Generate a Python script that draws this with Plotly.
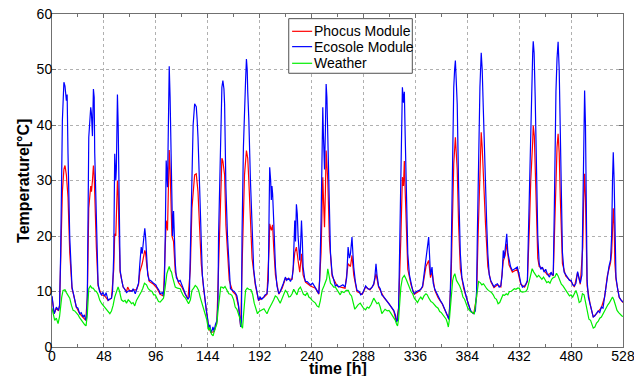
import plotly.graph_objects as go

# hours / temperature readings [deg C]
ecosole_h = [0, 2, 3, 4, 6, 7, 8, 9.6, 11, 12, 13.3, 14, 14.8, 16.4, 18.5, 20, 22.5, 24, 25.6, 27, 28.7, 30, 31.2, 32, 32.7,
             34, 35, 35.8, 36.5, 37.4, 38.3, 39, 39.5, 41, 42.6, 44, 45.7, 47, 48.8, 50, 51.9, 53, 55, 56, 57.1, 58, 59,
             59.5, 60.5, 61.2, 61.8, 63, 64.5, 65.8, 67, 68.9, 70, 72, 74, 75, 77, 78.1, 80, 81.2, 82.5, 83.4, 84.5, 85.8,
             86.5, 87.7, 88.5, 89.9, 91, 93.9, 96, 97, 99, 100, 102, 103.1, 104, 104.7, 105.6, 106.8, 107.5, 108.4, 109.2,
             110, 110.9, 111.5, 112.4, 113, 114, 115, 117, 118.5, 120.1, 121.5, 123.2, 125, 125.7, 127, 127.9, 128.5,
             129.4, 130.5, 131.9, 133.4, 134.2, 135, 136.5, 138, 139, 140.2, 141.5, 142.7, 144, 144.8, 146, 147, 148,
             148.8, 150, 151, 152.5, 153.5, 154, 155.6, 156.3, 157.1, 158, 159, 159.6, 160.8, 162.3, 163.9, 165, 167,
             168.5, 170, 171, 172.5, 173.5, 174.5, 175.2, 175.7, 177, 178, 179, 179.8, 180.5, 181, 182, 183.5, 185, 186.5,
             188, 189.5, 191, 192.5, 194, 195.7, 197, 198.8, 200, 200.8, 201.3, 202.2, 202.8, 203.4, 204, 205, 206.6, 208,
             209.7, 211, 212.8, 214, 215.8, 217, 218.9, 220.5, 222, 223, 224.5, 225.2, 226, 226.8, 227.6, 228.3, 229.1,
             229.8, 230.7, 231.5, 232.2, 233.5, 234.4, 236, 237.5, 239, 241, 243.6, 245, 246.7, 247.5, 248.8, 249.5,
             250.4, 251, 251.5, 252, 252.8, 253.5, 254.2, 255, 255.8, 256.6, 257.5, 259, 260.5, 262, 263.7, 265, 267,
             269, 271, 272.5, 273.8, 275, 276, 277.4, 278.2, 279, 280.5, 282, 284, 285.5, 287, 288.5, 290, 292, 294, 296,
             297.5, 298.5, 299.6, 300.5, 302, 303.5, 305, 307, 309, 311.6, 313.5, 316, 317.5, 318.5, 319.5, 320.5, 321.5,
             322.6, 323.3, 324, 325, 325.8, 326.6, 327.4, 329, 330.5, 332, 333.5, 335, 337, 339.6, 341, 342.7, 344,
             345.8, 347, 348.3, 349, 350, 351.4, 352.5, 354, 355.5, 357, 359, 361, 363, 365, 366, 367, 368, 369, 370,
             370.8, 371.5, 372.3, 373, 373.8, 374.7, 376, 377.6, 379, 380.7, 382.5, 384, 385.5, 387, 388.5, 390, 391.5,
             392.6, 393.3, 394, 395, 395.7, 396.9, 397.8, 398.7, 399.8, 400.9, 402, 403, 404.3, 405.7, 407, 408.7, 410,
             411.9, 413.5, 415, 416.2, 417.3, 418.2, 419, 420.5, 421.5, 422.6, 424, 425.7, 427.5, 429, 430.3, 432, 433.5,
             435, 437, 438.5, 439.6, 440.5, 441.5, 442.7, 443.5, 444.5, 445, 445.8, 446.8, 448, 449.2, 450.5, 452, 453.5,
             455, 456.5, 458, 460, 461.5, 462.5, 463.5, 464.5, 465.3, 466, 467, 468, 469, 470, 471, 472, 473.5, 475, 477,
             478.5, 480, 481.5, 483, 484.5, 486, 487, 488.5, 490, 490.8, 491.6, 492.5, 493.3, 494, 494.8, 496, 497.5, 499,
             500.5, 502, 503.5, 505, 506.5, 508, 509.5, 511, 512, 513.5, 515, 516.5, 517.5, 518.3, 519, 519.8, 520.5,
             521.5, 523, 524.5, 526, 528]
ecosole_t = [9.2, 6, 6.5, 7.2, 6.6, 7.5, 16.8, 40.8, 47.7, 47, 44.4, 45.5, 34.8, 19.8, 10.8, 9.5, 7.2, 7, 6, 6.2, 5.4, 5.8,
             4.8, 5.2, 10, 37.8, 41, 43.2, 42, 38, 46.5, 45, 35, 22, 11.4, 10, 9.4, 9.8, 9.2, 9.8, 8.4, 8.6, 8.8, 10, 16.8,
             34.8, 30, 32, 45.5, 40, 28.8, 13.8, 12, 10.8, 10.5, 9.8, 10, 10.2, 10, 10.5, 9.6, 10.5, 11.5, 15, 18, 16.8,
             19, 21.4, 20, 16.8, 13, 12, 12, 11.5, 11.2, 10.8, 10.2, 9.6, 9.8, 9.2, 12, 19.8, 33.6, 28.8, 38, 50.6, 45,
             34.8, 22.8, 20, 24.5, 19, 15, 12.5, 11.8, 12, 11, 10.5, 9.6, 9, 8.6, 9, 16.8, 26, 34.8, 40, 43.8, 43.3, 41,
             37.8, 28.8, 18, 13, 10.8, 8, 6.6, 5, 3.5, 4, 2.6, 3, 3.6, 2.8, 4, 4.8, 8, 19.8, 31.8, 40, 46.8, 48, 46.5,
             43.8, 28.8, 19.8, 12.6, 10.5, 10.2, 10, 9.6, 9.2, 7.5, 5.5, 3.6, 4.5, 20, 36, 43.8, 48, 51.9, 50, 46, 41, 30,
             19.8, 14, 11.5, 9.5, 8.4, 9, 8.6, 9, 9.4, 9.6, 12, 25, 32.4, 30, 26.5, 29, 27.6, 22.8, 14.4, 11, 9.6, 10,
             10.8, 11.5, 12.6, 12, 12.4, 11.8, 12.4, 14, 22.8, 19, 25.7, 24, 19.8, 17, 15.6, 18, 22.8, 19, 14.4, 12.5,
             11.8, 11.8, 11.5, 11.2, 11.5, 10.8, 10.2, 9.6, 12, 22.8, 35, 43.2, 38, 34, 32, 39, 47.4, 45, 37.8, 30, 22.8,
             17, 13.2, 12, 11, 11.2, 10.8, 11, 11.2, 10.8, 12.5, 18, 16, 16.8, 19.8, 17, 14.4, 11.8, 10.2, 10, 9.4, 9.6,
             10.4, 11, 10.5, 10.4, 10.8, 11.4, 12.5, 15, 13, 11, 10.5, 9.4, 9, 8.5, 7.9, 7.3, 6.6, 5.8, 4.5, 4.8, 7, 18,
             31.8, 38, 46.8, 44, 46, 38, 28.8, 16.8, 13, 11.4, 10.2, 9.6, 10, 10.2, 10.4, 11, 13, 15.6, 18, 19.8, 17, 13,
             14.4, 11.5, 10.4, 9.8, 9, 8.4, 7.8, 7, 6, 5.5, 5, 7.9, 15, 28.8, 40, 46.8, 50, 51.6, 48, 43.8, 28.8, 16.8,
             12.5, 10.8, 9.5, 8.4, 7.5, 6.6, 6.2, 6, 6.5, 10, 20, 28.8, 40, 46.8, 53, 50, 43.8, 35, 28.8, 22, 16.8, 13,
             12, 11.5, 10.8, 11.2, 11.4, 10.8, 11, 13, 17.4, 16, 18, 20.4, 17, 15.6, 14.5, 13.8, 14, 14.2, 14.4, 13, 11.5,
             10.8, 11, 11.5, 12, 20, 30, 40.8, 47, 53, 55.1, 53, 45, 32, 20, 15, 14, 14.4, 13.5, 14, 13.2, 12.6, 13.5, 13,
             13, 25, 38, 46, 52, 55, 50, 38, 26, 17, 13.5, 13, 12.5, 12, 12, 11.2, 11, 11.5, 13.6, 12.8, 11.5, 13, 25, 38,
             46.2, 40, 25, 12, 9, 7.9, 6.5, 5.4, 5.6, 6, 6.5, 6.2, 7.2, 7, 9, 11, 13, 14.5, 15.7, 20, 30, 35.1, 30, 18,
             12.6, 10.5, 9, 8.5, 8.1]

phocus_h = [0, 2, 4, 6, 7, 8, 9.6, 11, 12, 13.3, 14.8, 16.4, 18.5, 20, 22.5, 25.6, 28.7, 31.2, 32.7, 34, 35.8, 36.5, 37.4,
            38.3, 39, 39.5, 41, 42.6, 45.7, 48.8, 51.9, 55, 57.1, 58, 59, 60.5, 61.2, 61.8, 63, 65.8, 68.9, 70, 72, 75,
            78.1, 80, 81.2, 83.4, 85.8, 86.5, 87.7, 89.9, 93.9, 97, 100, 103.1, 104.7, 105.6, 106.8, 107.5, 108.4, 109.2,
            110, 110.9, 112.4, 114, 117, 120.1, 123.2, 125.7, 127.9, 129.4, 131.9, 133.4, 135, 136.5, 138, 140.2, 142.7,
            144.8, 147, 150, 152.5, 154, 155.6, 157.1, 158, 159.6, 160.8, 162.3, 163.9, 167, 170, 172.5, 174.5, 175.7,
            177, 178, 179.8, 181, 182, 183.5, 185, 188, 191, 195.7, 198.8, 200.8, 201.3, 202.8, 204, 205, 206.6, 209.7,
            212.8, 215.8, 218.9, 222, 224.5, 226, 227.6, 229.1, 230.7, 232.2, 234.4, 239, 243.6, 246.7, 248.8, 250.4,
            251.5, 252, 252.8, 253.5, 255, 256.6, 259, 263.7, 267, 271, 273.8, 276, 277.4, 279, 282, 287, 290, 294, 297.5,
            299.6, 302, 307, 311.6, 316, 318.5, 320.5, 322.6, 324, 325, 325.8, 326.6, 327.4, 329, 332, 335, 339.6, 342.7,
            345.8, 348.3, 350, 351.4, 354, 357, 361, 365, 367, 369, 370, 371.5, 373, 374.7, 376, 377.6, 380.7, 384, 387,
            390, 392.6, 394, 395.7, 396.9, 397.8, 398.7, 400.9, 403, 405.7, 408.7, 411.9, 415, 417.3, 419, 420.5, 422.6,
            425.7, 430.3, 433.5, 437, 439.6, 441.5, 442.7, 444.5, 445, 446, 446.8, 448, 449.2, 450.5, 453.5, 458, 461.5,
            463.5, 465.3, 466, 467, 468, 469, 470, 471, 472, 475, 480, 483, 486, 488.5, 490.8, 491.6, 492.5, 493.3, 494,
            494.8, 497.5, 500.5, 503.5, 508, 511, 513.5, 516.5, 517.5, 518.3, 519, 519.8, 520.5, 521.5, 524.5, 528]
phocus_t = [9, 6, 7, 6.5, 7.5, 14, 28, 32, 32.7, 31, 27, 17, 10.5, 9.4, 7.2, 6, 5.4, 4.8, 9, 25, 29, 28, 30, 32.7, 31, 27,
            18, 11, 9.4, 9.2, 8.4, 8.8, 14, 20.4, 20, 30, 28, 22, 13.5, 10.8, 10, 10.8, 10, 10.3, 10.3, 11.3, 13.5, 15,
            17.4, 17, 14.5, 11.8, 11.3, 10.6, 9.5, 9.2, 17, 22.8, 21, 27, 35.5, 32, 27, 20, 19, 13.5, 11.6, 10.8, 9.5,
            8.6, 14, 25, 31, 31.2, 28, 22, 15, 10.5, 6.4, 3.5, 2.6, 2.8, 4.6, 15, 24, 34, 33.5, 31, 22, 16, 12, 10, 9.4,
            7.3, 3.6, 14, 25, 31, 35.4, 34, 30, 22, 16, 11.2, 8.4, 8.9, 9.5, 18, 22.2, 21, 22, 18, 13, 9.5, 10.6, 12.3,
            12.2, 12.2, 17, 18, 15.5, 13.5, 16.8, 13, 11.7, 11, 10.6, 9.5, 17, 30.6, 24, 21.6, 28, 35.4, 30, 19, 12.8, 11,
            10.8, 10.6, 15, 14.5, 16.5, 13, 10, 9.5, 10.8, 10.3, 11.2, 13.2, 10.8, 8.9, 7.8, 6.5, 4.5, 7, 19.8, 30.6, 29,
            33.5, 28, 22, 14, 11.2, 9.5, 10.1, 10.8, 14.5, 15.6, 12.5, 13.5, 10.2, 8.9, 7.7, 6, 5, 12, 22, 33, 37.8, 32,
            22, 14, 10.5, 8.3, 6.5, 6, 9, 20, 33, 38.7, 36, 31, 22, 14.5, 11.8, 10.7, 11.2, 10.8, 15.5, 16.5, 18.6, 14.8,
            13.5, 14, 11.3, 10.8, 11.8, 22, 30, 37, 39.9, 38, 33, 24, 16, 14.5, 14.2, 13, 13.3, 12.8, 26, 32, 36, 38.4,
            35, 27, 20, 15, 12.8, 11.8, 10.8, 13.4, 11.3, 18, 26, 31.2, 27, 18, 11, 7.8, 5.4, 6, 7.1, 9, 12.8, 15.2, 17,
            21, 25, 22, 15, 12.2, 8.9, 8]

weather_h = [0, 1.5, 2.5, 4, 5.6, 7, 8, 9, 10.2, 12, 13.3, 15, 16.4, 18, 19.5, 21, 22.5, 24.1, 25.5, 27.2, 28.8, 30.3,
             31.5, 32.7, 34, 35.5, 37, 38, 39.5, 41, 42.5, 44.2, 46, 48.8, 50.5, 52, 53.5, 55, 56.5, 58, 59.5, 61.1, 62.5,
             64.2, 66, 67.5, 68.9, 70.5, 72, 73.5, 75, 76.5, 78.1, 80, 81.5, 82.7, 84, 85.5, 87.4, 89, 90.8, 92.5, 94,
             95.5, 97, 98.5, 100, 101.5, 103.1, 104.5, 106.2, 107.5, 108.4, 109.5, 110.5, 111.5, 113, 114, 116, 118.6,
             120, 121.6, 123.5, 125, 126.3, 128, 129.4, 131, 132.5, 134, 135.6, 137, 138.7, 140.2, 141.8, 143, 144.8, 146,
             147.5, 149, 150, 151, 152.5, 153.5, 155, 156, 157.1, 158.5, 160, 161.7, 163.5, 165, 166.3, 168, 169.4, 171,
             172.5, 174, 175, 176.2, 177, 178, 179, 180.5, 182, 184, 185.5, 187, 188.5, 190, 191.5, 192.5, 194.2, 196,
             197.5, 198.8, 200.5, 202, 203.4, 205, 206.5, 208, 209.5, 211, 212.5, 214, 215.8, 217.5, 219, 220.4, 222,
             223.5, 225, 226.5, 228, 229.7, 231, 232.5, 234.4, 236, 237.5, 239, 240.5, 242, 243.6, 245, 246.7, 248,
             249.8, 251.5, 252.9, 254, 255, 256, 257.5, 259, 260.5, 262, 263.5, 265, 266.5, 268, 270, 272, 274, 275.5,
             277, 278.5, 280, 281.5, 283, 285, 286.5, 288, 290, 291.5, 293, 295, 297.5, 299, 300.5, 302, 303.5, 305,
             306.5, 308, 310, 311.6, 313, 314.5, 316, 317.5, 318.5, 319.5, 320.5, 321.5, 322.6, 324, 325.8, 327.5, 329,
             330.5, 332, 333.5, 335, 336.6, 338, 339.5, 341, 342.5, 344, 345.8, 347, 348.5, 350.4, 352, 353.5, 355, 357,
             358.5, 360, 361.5, 363, 364.5, 365.5, 366.5, 367.5, 368.5, 369.5, 370.5, 371.5, 372.5, 374, 375.5, 377,
             378.5, 380, 381.5, 383, 384.5, 386, 387.5, 389, 390.5, 391.5, 393, 394.5, 396, 397.5, 399, 400.5, 402,
             403.5, 405, 406.5, 408, 409.5, 411, 412.5, 414, 415.5, 417, 418.5, 420, 421.5, 423, 424.5, 426, 427.5, 429,
             430.5, 432, 433.5, 435, 436.5, 438, 439.5, 441, 442.5, 444, 445.5, 447, 448.5, 450, 451.5, 453, 454.5, 456,
             457.5, 459, 460.5, 462, 463.5, 465, 466.5, 468, 469.5, 471, 472.5, 474, 475.5, 477, 478.5, 480, 481.5, 483,
             484.5, 486, 487.5, 489, 490.5, 492, 493.5, 495, 496.5, 498, 499.5, 500.5, 502, 503.5, 505, 506.5, 508,
             509.5, 511, 512.5, 514, 515.5, 517, 518.3, 519.5, 521, 522.5, 524, 525.5, 527, 528]
weather_t = [7, 5.5, 4.8, 5.2, 4.2, 5.5, 7.9, 9, 10.2, 10.3, 9.8, 9.3, 8.8, 7.5, 6.6, 6.5, 6.2, 5.8, 5.3, 4.8, 4.5, 4, 3.8,
             6, 10.5, 11, 10.6, 10.6, 10.2, 10, 9.5, 8.4, 7.8, 7.2, 6.8, 6.4, 6, 6.5, 7.5, 9, 10, 10.8, 10, 8.5, 8.2, 8.4,
             7.9, 8.5, 8.2, 7.8, 8, 7.4, 8.4, 9, 9.4, 10, 10.6, 11.5, 11.2, 10.5, 10.2, 10, 9.4, 9.4, 8.8, 8.2, 8.1, 8.5,
             8.8, 10.5, 13.2, 14, 14.5, 13.8, 13.5, 12.6, 11.5, 10.8, 10.6, 10.5, 9.8, 9.2, 8.8, 8.3, 7.8, 8.5, 10.2,
             10.6, 11.1, 10.8, 10.2, 9, 7.9, 6.8, 6, 5, 3, 3.5, 2.3, 2, 2.8, 3.5, 4.2, 6.5, 9.5, 10.8, 10.8, 10.6, 10.9,
             10.2, 9.6, 9.5, 9.3, 8.5, 7.2, 6.8, 6, 5, 3.8, 3.4, 5.5, 8.5, 10.2, 10.6, 10.4, 10.3, 9.5, 7.9, 7, 6, 6.4,
             6.5, 6.6, 6.9, 6.4, 6, 6.8, 7.5, 7.9, 8.5, 9.2, 9, 8.4, 7.9, 8.6, 9.5, 10.2, 9.8, 9, 9.1, 9.6, 10.4, 10, 9.4,
             10.4, 10.8, 10.2, 9.5, 9.3, 9.8, 9, 8.8, 8.4, 8.2, 7.9, 7.4, 7.2, 8.2, 10.2, 11, 12, 12.3, 14.1, 13, 11.5,
             11.2, 10.8, 10.8, 10.4, 9.8, 9.4, 10, 9.8, 10.2, 10.2, 9.5, 9.2, 8, 6.8, 7.2, 7.6, 7.9, 7.4, 7, 6.7, 7.2, 7,
             7.6, 8.8, 8.4, 7.8, 8, 7.2, 6, 6.4, 6.8, 6.5, 6.6, 6.2, 5.8, 5.4, 4.8, 4.2, 3.8, 5, 8, 10.8, 12.4, 12.9, 12.2,
             11.4, 10.8, 10, 9.6, 8.8, 8.4, 8, 8.6, 9, 8.6, 9.2, 9.6, 9.4, 8.8, 8.2, 8, 7.6, 7.3, 7, 6.4, 6.2, 5.8, 5.3,
             5, 4.4, 3.6, 5, 8, 10.6, 12, 12.8, 13.2, 12, 11.6, 11, 10.2, 9, 8.6, 7.6, 7, 6.6, 6.3, 6.2, 6, 7.5, 10, 11.8,
             11.6, 11.2, 11.4, 10.8, 10.5, 10.2, 10, 9.8, 9.4, 8.8, 8.6, 7.8, 8, 8.8, 9.4, 9.3, 9.6, 9.4, 10, 10, 10.2,
             10.5, 10.4, 10.6, 10.6, 10, 9.9, 9.9, 10, 10.4, 11.5, 12.8, 14.1, 13.5, 13, 12.6, 12.9, 12.5, 12.2, 12.6,
             12.2, 11.6, 11.8, 11.5, 12.2, 12.5, 12.6, 13.3, 12.8, 12, 11.3, 11, 10.6, 10, 9.6, 9.2, 9.4, 9, 9.6, 10.2,
             9.3, 8, 8.2, 9.6, 9.4, 8, 6.4, 5, 4.8, 4, 3.4, 3.6, 4.3, 4.6, 5.2, 5.4, 6, 6.5, 7.2, 7.6, 8, 8.5, 9, 8.5, 7.5,
             6.6, 6.2, 5.8, 5.6, 5.5]

series_names = ['Phocus Module', 'Ecosole Module', 'Weather']
series_colors = ['#ff0000', '#0000ff', '#00ee00']
x_ticks = list(range(0, 529, 48))
y_ticks = list(range(0, 61, 10))

font_family = 'Liberation Sans, Arial'

fig = go.Figure()
for name, hx, ty, col in zip(series_names, [phocus_h, ecosole_h, weather_h],
                             [phocus_t, ecosole_t, weather_t], series_colors):
    fig.add_trace(go.Scatter(x=hx, y=ty, mode='lines', name=name,
                             line=dict(color=col, width=1.2), showlegend=False))

axis_style = dict(showline=True, linecolor='#707070', linewidth=1, mirror='ticks',
                  ticks='inside', ticklen=4, tickcolor='#707070', automargin=False,
                  ticklabelstandoff=-4, ticklabeloverflow='allow',
                  showgrid=True, gridcolor='#b0b0b0', griddash='dot', gridwidth=1,
                  zeroline=False, tickfont=dict(family=font_family, size=14, color='black'))

fig.update_xaxes(range=[0, 528], tickvals=x_ticks,
                 minor=dict(dtick=24, ticks='inside', ticklen=3, tickcolor='#707070', showgrid=False),
                 **axis_style)
fig.update_yaxes(range=[0, 60], tickvals=y_ticks, **axis_style)

# legend box drawn like the MATLAB one (short line samples, tight rows)
box = dict(x0=0.4146, x1=0.631, y0=0.822, y1=0.986)
row_y = [0.948, 0.902, 0.852]
shapes = [dict(type='rect', xref='paper', yref='paper', fillcolor='white',
               line=dict(color='#505050', width=1), **box)]
annotations = []
for name, col, ry in zip(series_names, series_colors, row_y):
    shapes.append(dict(type='line', xref='paper', yref='paper', x0=0.4205, x1=0.4556, y0=ry, y1=ry,
                       line=dict(color=col, width=1.2)))
    annotations.append(dict(xref='paper', yref='paper', x=0.457, y=ry, text=name, showarrow=False,
                            xanchor='left', yanchor='middle', borderpad=0,
                            font=dict(family=font_family, size=14, color='black')))

# axis titles
annotations.append(dict(xref='paper', yref='paper', x=0.5, y=-0.0646, text='<b>time [h]</b>',
                        showarrow=False, xanchor='center', yanchor='middle',
                        font=dict(family=font_family, size=16, color='black')))
annotations.append(dict(xref='paper', yref='paper', x=-0.05, y=0.5, text='<b>Temperature[°C]</b>',
                        showarrow=False, xanchor='center', yanchor='middle', textangle=-90,
                        font=dict(family=font_family, size=16, color='black')))

# page body adds an 8px offset, so the figure is sized to sit inside 642x384
fig.update_layout(
    width=626, height=368,
    margin=dict(l=44, r=11, t=6, b=29),
    paper_bgcolor='white', plot_bgcolor='white',
    shapes=shapes, annotations=annotations,
    showlegend=False,
)

fig.write_html("out.html")
